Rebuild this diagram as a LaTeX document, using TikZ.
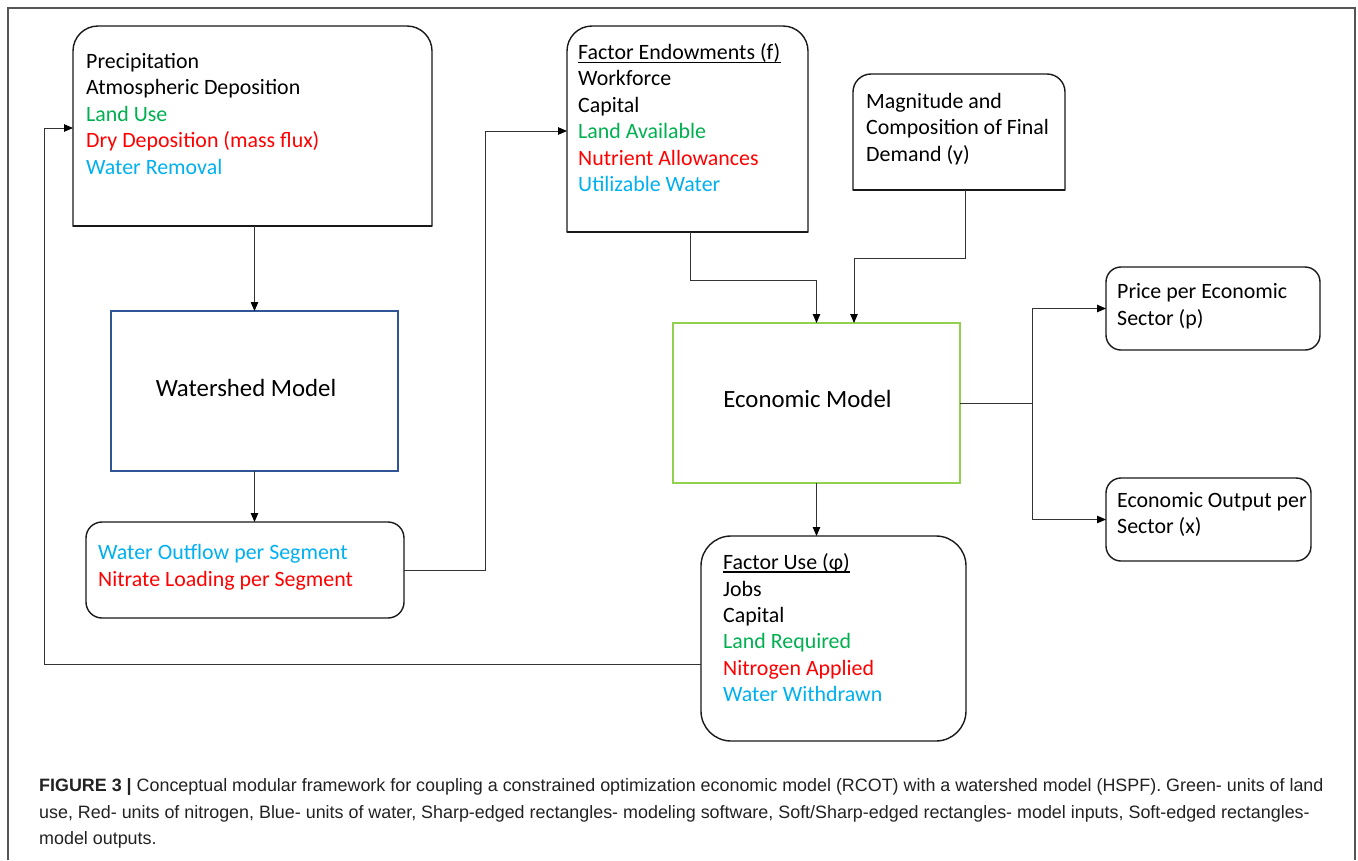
\documentclass[tikz,border=0pt]{standalone}
\usepackage{fontspec}
\setmainfont{Carlito}
\newfontfamily\capfont{Liberation Sans}
\usetikzlibrary{arrows.meta,calc}
\definecolor{tgreen}{HTML}{00B050}
\definecolor{tred}{HTML}{FF0000}
\definecolor{tblue}{HTML}{00B0F0}
\definecolor{wsblue}{HTML}{2F5597}
\definecolor{ecgreen}{HTML}{92D050}
\definecolor{framegray}{HTML}{555555}
\definecolor{linegray}{HTML}{333333}
\definecolor{captext}{HTML}{222222}
\tikzset{
  blank/.style={rectangle, inner sep=0pt, outer sep=0pt},
  boxline/.style={draw=black!90, line width=1.4pt},
  softtop/.style={boxline, rounded corners=#1, line cap=rect},
  outbox/.style={blank, draw=black!90, line width=1.4pt, rounded corners=#1},
  tl/.style={anchor=base west, inner sep=0pt, font=\fontsize{21.9}{26}\selectfont},
  bigtxt/.style={anchor=base, inner sep=0pt, font=\fontsize{24.8}{28}\selectfont},
  captxt/.style={anchor=base west, inner sep=0pt, text=captext, font=\capfont\fontsize{17.9}{21}\selectfont},
  conn/.style={draw=linegray, line width=0.9pt},
  arr/.style={conn, -{Triangle[length=9pt,width=7.5pt,color=black]}},
  uline/.style={draw=black, line width=1.1pt}
}
\begin{document}
\begin{tikzpicture}[x=1pt,y=-1pt]
\useasboundingbox (0,0) rectangle (1358,860);
\fill[white] (0,0) rectangle (1358,860);
% outer frame
\draw[framegray, line width=2pt] (8,860) -- (8,8) -- (1355,8) -- (1355,860);

% ---- inputs to watershed model
\node[blank, minimum width=359pt, minimum height=200pt] (b1) at (252.5,126) {};
\draw[softtop=25pt] (b1.south west) -- (b1.north west) -- (b1.north east) -- (b1.south east);
\draw[boxline] (b1.south west) -- (b1.south east);
\node[tl] (b1a) at (86,68) {Precipitation};
\node[tl] (b1b) at (86,94.5) {Atmospheric Deposition};
\node[tl, text=tgreen] (b1c) at (86,121) {Land Use};
\node[tl, text=tred] (b1d) at (86,147.5) {Dry Deposition (mass flux)};
\node[tl, text=tblue] (b1e) at (86,174) {Water Removal};

% ---- factor endowments
\node[blank, minimum width=241pt, minimum height=206pt] (fe) at (687.5,129) {};
\draw[softtop=25pt] (fe.south west) -- (fe.north west) -- (fe.north east) -- (fe.south east);
\draw[boxline] (fe.south west) -- (fe.south east);
\node[tl] (fea) at (578,59) {Factor Endowments (f)};
\draw[uline] ([yshift=-3.5pt]fea.base west) -- ([yshift=-3.5pt]fea.base east);
\node[tl] (feb) at (578,85.5) {Workforce};
\node[tl] (fec) at (578,112) {Capital};
\node[tl, text=tgreen] (fed) at (578,138.5) {Land Available};
\node[tl, text=tred] (fee) at (578,165) {Nutrient Allowances};
\node[tl, text=tblue] (fef) at (578,191.5) {Utilizable Water};

% ---- final demand
\node[blank, minimum width=212pt, minimum height=116pt] (mag) at (959,132) {};
\draw[softtop=18pt] (mag.south west) -- (mag.north west) -- (mag.north east) -- (mag.south east);
\draw[boxline] (mag.south west) -- (mag.south east);
\node[tl] (maga) at (866,108) {Magnitude and};
\node[tl] (magb) at (866,134.5) {Composition of Final};
\node[tl] (magc) at (866,161) {Demand (y)};

% ---- watershed model
\node[blank, draw=wsblue, line width=2pt, minimum width=287pt, minimum height=160pt] (ws) at (254.5,391) {};
\node[bigtxt] (wst) at (246,396) {Watershed Model};

% ---- economic model
\node[blank, draw=ecgreen, line width=2.2pt, minimum width=287pt, minimum height=160pt] (econ) at (816.5,403) {};
\node[bigtxt] (econt) at (807.5,407) {Economic Model};

% ---- watershed outputs
\node[outbox=16pt, minimum width=318pt, minimum height=96pt] (out) at (245,570) {};
\node[tl, text=tblue] (outa) at (98,559) {Water Outflow per Segment};
\node[tl, text=tred] (outb) at (98,586) {Nitrate Loading per Segment};

% ---- price
\node[outbox=15pt, minimum width=214pt, minimum height=83pt] (price) at (1213,308.5) {};
\node[tl] (pra) at (1117,298) {Price per Economic};
\node[tl] (prb) at (1117,325) {Sector (p)};

% ---- output
\node[outbox=15pt, minimum width=205pt, minimum height=83pt] (outp) at (1208.5,519.5) {};
\node[tl] (opa) at (1117,507) {Economic Output per};
\node[tl] (opb) at (1117,533) {Sector (x)};

% ---- factor use
\node[outbox=30pt, minimum width=265pt, minimum height=205pt] (fu) at (833.5,638.5) {};
\node[tl] (fua) at (723,569) {Factor Use (\char"03C6)};
\draw[uline] ([yshift=-3pt]fua.base west) -- ([yshift=-3pt]fua.base east);
\node[tl] (fub) at (723,596) {Jobs};
\node[tl] (fuc) at (723,622) {Capital};
\node[tl, text=tgreen] (fud) at (723,648) {Land Required};
\node[tl, text=tred] (fue) at (723,675) {Nitrogen Applied};
\node[tl, text=tblue] (fuf) at (723,701) {Water Withdrawn};

% ---- connectors
\draw[arr] (ws.north |- b1.south) -- (ws.north);
\draw[arr] (ws.south) -- (ws.south |- out.north);
\coordinate (j1) at (485,570);
\draw[arr] (out.east) -- (j1) |- ([yshift=-2pt]fe.west);
\coordinate (j2) at (690,280);
\draw[arr] (j2 |- fe.south) -- (j2) -| (econ.north);
\coordinate (j3) at (965,258);
\draw[arr] (j3 |- mag.south) -- (j3) -| ([xshift=37.5pt]econ.north);
\coordinate (j4) at (1032,403);
\draw[conn] (econ.east) -- (j4);
\draw[arr] (j4) |- (price.west);
\draw[arr] (j4) |- (outp.west);
\draw[arr] (econ.south) -- (econ.south |- fu.north);
\coordinate (j5) at (44,664);
\draw[arr] (fu.west |- j5) -- (j5) |- ([yshift=-2pt]b1.west);

% ---- caption
\node[captxt] (c1) at (39,791) {\textbf{FIGURE 3 |} Conceptual modular framework for coupling a constrained optimization economic model (RCOT) with a watershed model (HSPF). Green- units of land};
\node[captxt] (c2) at (39,818) {use, Red- units of nitrogen, Blue- units of water, Sharp-edged rectangles- modeling software, Soft/Sharp-edged rectangles- model inputs, Soft-edged rectangles-};
\node[captxt] (c3) at (39,844.5) {model outputs.};
\end{tikzpicture}
\end{document}
